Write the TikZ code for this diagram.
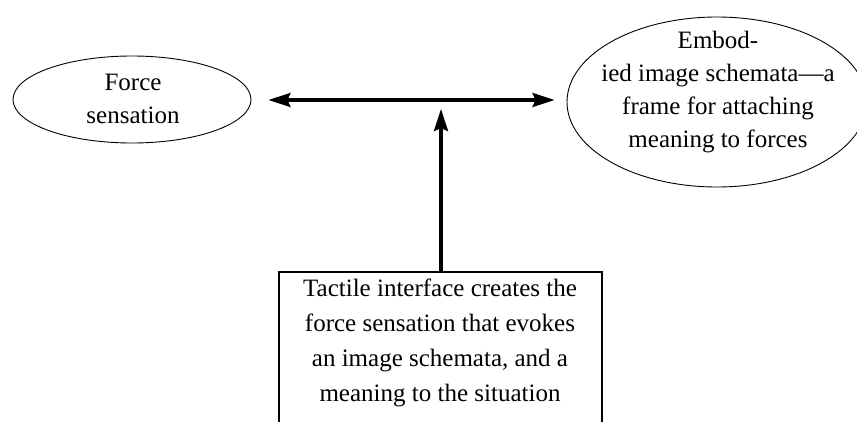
\documentclass[tikz,border=0pt]{standalone}
\usepackage{fontspec}
\setmainfont{Liberation Serif}
\usetikzlibrary{arrows.meta,shapes.geometric}
\begin{document}
\begin{tikzpicture}[x=1pt,y=-1pt,
  oval/.style={draw, ellipse, line width=0.9pt, inner sep=0pt},
  label/.style={align=center, font=\fontsize{25}{33}\selectfont, inner sep=0pt},
  boxlabel/.style={align=center, font=\fontsize{25}{35}\selectfont, inner sep=0pt},
  tipstyle/.style={Stealth[length=22pt,width=14pt,inset=3pt]},
  conn/.style={line width=3.4pt, -{Stealth[length=22pt,width=14pt,inset=3pt]}}]
\useasboundingbox (0,0) rectangle (857,421);
\clip (0,0) rectangle (857,421);
\fill[white] (0,0) rectangle (857,421);
% shapes
\node[oval, minimum width=238pt, minimum height=87pt] (L) at (132,99.5) {};
\node[oval, minimum width=300pt, minimum height=170pt] (R) at (717,102) {};
\node[draw, rectangle, line width=1.2pt, minimum width=323pt, minimum height=180pt, inner sep=0pt] (box) at (440.5,362) {};
% texts
\node[label] (Ltext) at (133,99) {Force\\sensation};
\node[label] (Rtext) at (718,92) {Embod-\\ied image schemata---a\\frame for attaching\\meaning to forces};
\node[boxlabel] (boxtext) at (440,343) {Tactile interface creates the\\force sensation that evokes\\an image schemata, and a\\meaning to the situation};
% connectors
\coordinate (tip) at (441,109);
\draw[line width=3.4pt, {Stealth[length=22pt,width=14pt,inset=3pt]}-{Stealth[length=22pt,width=14pt,inset=3pt]}, shorten <=17pt, shorten >=12pt] (L.east |- 0,100) -- (R.west |- 0,100);
\draw[conn] (box.north -| tip) -- (tip);
\end{tikzpicture}
\end{document}
